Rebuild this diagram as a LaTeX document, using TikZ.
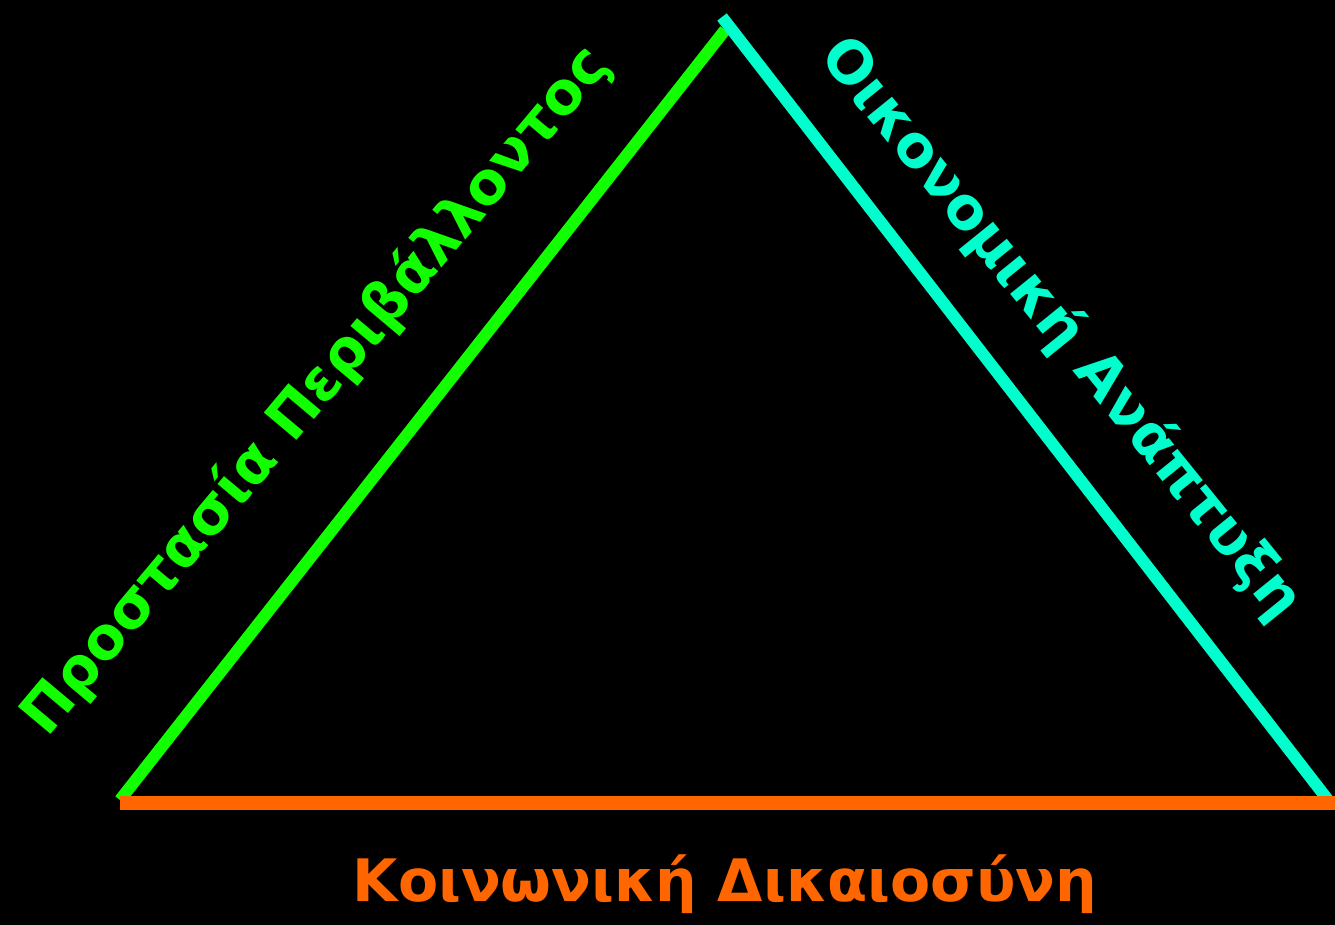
\documentclass[tikz,border=0pt]{standalone}
\usepackage{fontspec}
\setmainfont{DejaVu Sans}
\definecolor{envgreen}{HTML}{11FF00}
\definecolor{ecocyan}{HTML}{00FFCC}
\definecolor{socorange}{HTML}{FF6600}
\begin{document}
\begin{tikzpicture}[x=0.02cm, y=-0.02cm,
    side/.style={line width=6.8pt},
    sidetext/.style={font=\bfseries\fontsize{33.3}{40}\selectfont, inner sep=0pt}]
    \fill[black] (0,0) rectangle (1335,925);
    \useasboundingbox (0,0) rectangle (1335,925);
    % corners of the triangle
    \coordinate (bl) at (120,800);
    \coordinate (gtop) at (725,30);
    \coordinate (ctop) at (722,17);
    \coordinate (br) at (1328,800);
    \coordinate (bend) at (1335,803);
    \draw[side, envgreen] (bl) -- (gtop);
    \draw[side, ecocyan] (ctop) -- (br);
    \draw[side, socorange, line width=8pt] (120,803) -- (bend);
    \node[sidetext, envgreen, rotate=50] (env) at (316,391) {Προστασία Περιβάλλοντος};
    \node[sidetext, ecocyan, rotate=-51] (eco) at (1061,329) {Οικονομική Ανάπτυξη};
    \node[sidetext, socorange] (soc) at (725,884) {Κοινωνική Δικαιοσύνη};
\end{tikzpicture}
\end{document}
